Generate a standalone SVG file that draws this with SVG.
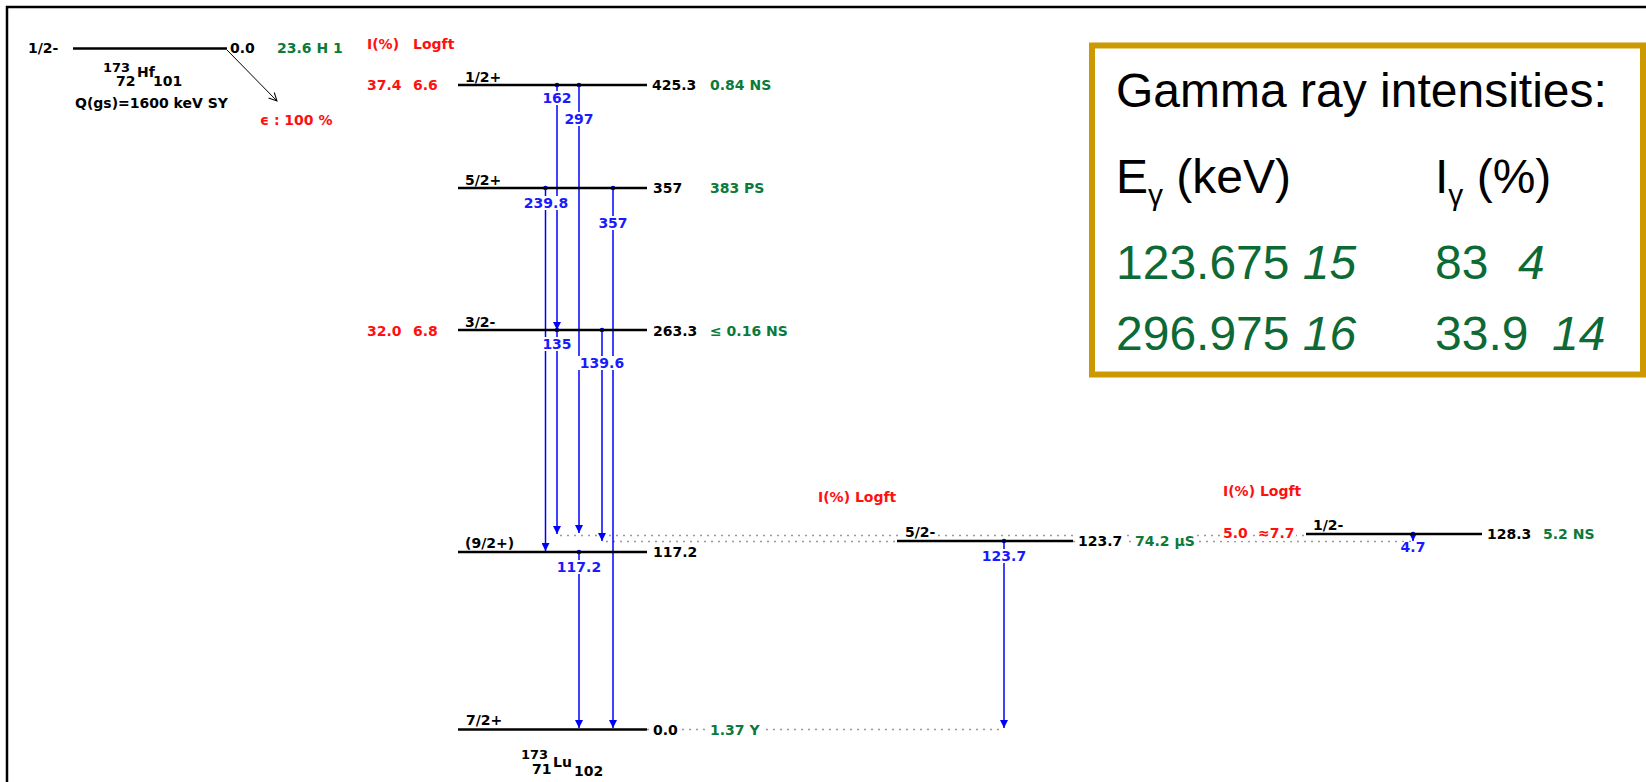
<svg xmlns="http://www.w3.org/2000/svg" width="1646" height="782" viewBox="0 0 1646 782">
<style>
.t{font-family:"DejaVu Sans","Liberation Sans",sans-serif;font-size:14px;font-weight:bold}
.s{font-size:13px}
.k{fill:#000}.g{fill:#0b7a3a}.r{fill:#ff1010}.b{fill:#1a1aff}
.m{text-anchor:middle}
.lvl{stroke:#000;stroke-width:2.5}
.gam{stroke:#0000ff;stroke-width:1.5;fill:none}
.dt{stroke:#999;stroke-width:1.4;stroke-dasharray:2 5;fill:none}
.bg{fill:#fff}
.big{font-family:"Liberation Sans",Arial,sans-serif;font-size:48px}
.gb{fill:#0d6a35}
</style>
<defs>
<marker id="ah" viewBox="0 -4 8 8" refX="8" refY="0" markerWidth="8" markerHeight="8" markerUnits="userSpaceOnUse" orient="auto"><path d="M0,-4 L8,0 L0,4 z" fill="#0000ff"/></marker>
<marker id="oa" viewBox="-1 -5 10 10" refX="8" refY="0" markerWidth="10" markerHeight="10" markerUnits="userSpaceOnUse" orient="auto"><path d="M0,-4 L8,0 L0,4" fill="none" stroke="#000" stroke-width="1"/></marker>
</defs>
<rect width="1646" height="782" fill="#fff"/>
<path d="M7 782 V7 H1646" fill="none" stroke="#000" stroke-width="2.5"/>

<!-- dotted extension lines -->
<g id="dotted">
<path class="dt" d="M560 535.5 H1306"/>
<path class="dt" d="M606 541.5 H897 M1073 541.5 H1413"/>
<path class="dt" d="M647 729.5 H1004"/>
</g>

<!-- parent Hf -->
<g id="hf-parent">
<line class="lvl" x1="73" y1="48.5" x2="227" y2="48.5"/>
<text class="t k" x="28" y="53">1/2-</text>
<text class="t k" x="230" y="53">0.0</text>
<text class="t g" x="277" y="53">23.6 H 1</text>
<text class="t k s" x="103" y="72">173</text>
<text class="t k" x="116" y="86">72</text>
<text class="t k" x="137" y="77">Hf</text>
<text class="t k" x="153" y="86">101</text>
<text class="t k" x="75" y="108">Q(gs)=1600 keV SY</text>
<line x1="227" y1="50" x2="277" y2="101" stroke="#000" stroke-width="1" marker-end="url(#oa)"/>
<text class="t r" x="260" y="125">ϵ : 100 %</text>
</g>

<!-- headers -->
<g id="headers">
<text class="t r" x="367" y="49">I(%)</text>
<text class="t r" x="413" y="49">Logft</text>
<text class="t r" x="818" y="502">I(%) Logft</text>
<text class="t r" x="1223" y="496">I(%) Logft</text>
</g>

<!-- connectors (gamma transitions) -->
<g id="connectors">
<line class="gam" x1="557" y1="85" x2="557" y2="330" marker-end="url(#ah)"/>
<line class="gam" x1="579" y1="85" x2="579" y2="533" marker-end="url(#ah)"/>
<line class="gam" x1="545.5" y1="188" x2="545.5" y2="551" marker-end="url(#ah)"/>
<line class="gam" x1="613" y1="188" x2="613" y2="728" marker-end="url(#ah)"/>
<line class="gam" x1="557" y1="330" x2="557" y2="534" marker-end="url(#ah)"/>
<line class="gam" x1="602" y1="330" x2="602" y2="541" marker-end="url(#ah)"/>
<line class="gam" x1="579" y1="552" x2="579" y2="728" marker-end="url(#ah)"/>
<line class="gam" x1="1004" y1="541" x2="1004" y2="728" marker-end="url(#ah)"/>
<line class="gam" x1="1413" y1="534" x2="1413" y2="541" marker-end="url(#ah)"/>
<g fill="#0000ff">
<circle cx="557" cy="85" r="2.3"/><circle cx="579" cy="85" r="2.3"/>
<circle cx="545.5" cy="188" r="2.3"/><circle cx="613" cy="188" r="2.3"/>
<circle cx="557" cy="330" r="2.3"/><circle cx="602" cy="330" r="2.3"/>
<circle cx="579" cy="552" r="2.3"/><circle cx="1004" cy="541" r="2.3"/>
<circle cx="1413" cy="534" r="2.3"/>
</g>
<g class="bg">
<rect x="542" y="91" width="30" height="14"/>
<rect x="564" y="112" width="30" height="14"/>
<rect x="523" y="196" width="46" height="14"/>
<rect x="598" y="216" width="30" height="14"/>
<rect x="542" y="337" width="30" height="14"/>
<rect x="578" y="356" width="48" height="14"/>
<rect x="556" y="560" width="46" height="14"/>
<rect x="981" y="549" width="46" height="14"/>
<rect x="1400" y="542" width="27" height="12"/>
</g>
<text class="t b m" x="557" y="103">162</text>
<text class="t b m" x="579" y="124">297</text>
<text class="t b m" x="546" y="208">239.8</text>
<text class="t b m" x="613" y="228">357</text>
<text class="t b m" x="557" y="349">135</text>
<text class="t b m" x="602" y="368">139.6</text>
<text class="t b m" x="579" y="572">117.2</text>
<text class="t b m" x="1004" y="561">123.7</text>
<text class="t b m" x="1413" y="552">4.7</text>
</g>

<!-- Lu levels -->
<g id="lvl-425">
<line class="lvl" x1="458" y1="85" x2="647" y2="85"/>
<text class="t k" x="465" y="82">1/2+</text>
<text class="t k" x="652" y="90">425.3</text>
<text class="t g" x="710" y="90">0.84 NS</text>
<text class="t r" x="367" y="90">37.4</text>
<text class="t r" x="413" y="90">6.6</text>
</g>
<g id="lvl-357">
<line class="lvl" x1="458" y1="188" x2="647" y2="188"/>
<text class="t k" x="465" y="185">5/2+</text>
<text class="t k" x="653" y="193">357</text>
<text class="t g" x="710" y="193">383 PS</text>
</g>
<g id="lvl-263">
<line class="lvl" x1="458" y1="330" x2="647" y2="330"/>
<text class="t k" x="465" y="327">3/2-</text>
<text class="t k" x="653" y="336">263.3</text>
<text class="t g" x="710" y="336">≤ 0.16 NS</text>
<text class="t r" x="367" y="336">32.0</text>
<text class="t r" x="413" y="336">6.8</text>
</g>
<g id="lvl-117">
<line class="lvl" x1="458" y1="552" x2="647" y2="552"/>
<text class="t k" x="465" y="548">(9/2+)</text>
<text class="t k" x="653" y="557">117.2</text>
</g>
<g id="lvl-0">
<line class="lvl" x1="458" y1="729.5" x2="647" y2="729.5"/>
<text class="t k" x="466" y="725">7/2+</text>
<rect class="bg" x="651" y="723" width="28" height="15"/>
<text class="t k" x="653" y="735">0.0</text>
<rect class="bg" x="707" y="723" width="54" height="15"/>
<text class="t g" x="710" y="735">1.37 Y</text>
<text class="t k s" x="521" y="759">173</text>
<text class="t k" x="532" y="774">71</text>
<text class="t k" x="553" y="767">Lu</text>
<text class="t k" x="574" y="776">102</text>
</g>
<g id="lvl-123">
<rect class="bg" x="903" y="525" width="34" height="14"/>
<line class="lvl" x1="897" y1="541" x2="1073" y2="541"/>
<text class="t k" x="905" y="537">5/2-</text>
<rect class="bg" x="1076" y="534" width="48" height="15"/>
<text class="t k" x="1078" y="546">123.7</text>
<rect class="bg" x="1133" y="533" width="63" height="15"/>
<text class="t g" x="1135" y="546">74.2 μS</text>
</g>
<g id="lvl-128">
<rect class="bg" x="1221" y="526" width="28" height="15"/>
<text class="t r" x="1223" y="538">5.0</text>
<rect class="bg" x="1256" y="526" width="40" height="15"/>
<text class="t r" x="1258" y="538">≈7.7</text>
<line class="lvl" x1="1306" y1="534" x2="1482" y2="534"/>
<text class="t k" x="1313" y="530">1/2-</text>
<text class="t k" x="1487" y="539">128.3</text>
<text class="t g" x="1543" y="539">5.2 NS</text>
</g>

<!-- gamma intensity box -->
<g id="gamma-box">
<rect x="1092" y="45.5" width="551" height="329" fill="#fff" stroke="#cc9900" stroke-width="6"/>
<text class="big k" x="1116" y="107">Gamma ray intensities:</text>
<text class="big k" x="1116" y="193">E<tspan font-size="30" dy="12">γ</tspan><tspan dy="-12"> (keV)</tspan></text>
<text class="big k" x="1435" y="193">I<tspan font-size="30" dy="12">γ</tspan><tspan dy="-12"> (%)</tspan></text>
<text class="big gb" x="1116" y="279">123.675 <tspan font-style="italic">15</tspan></text>
<text class="big gb" x="1435" y="279">83</text>
<text class="big gb" x="1518" y="279" font-style="italic">4</text>
<text class="big gb" x="1116" y="350">296.975 <tspan font-style="italic">16</tspan></text>
<text class="big gb" x="1435" y="350">33.9</text>
<text class="big gb" x="1552" y="350" font-style="italic">14</text>
</g>
</svg>
